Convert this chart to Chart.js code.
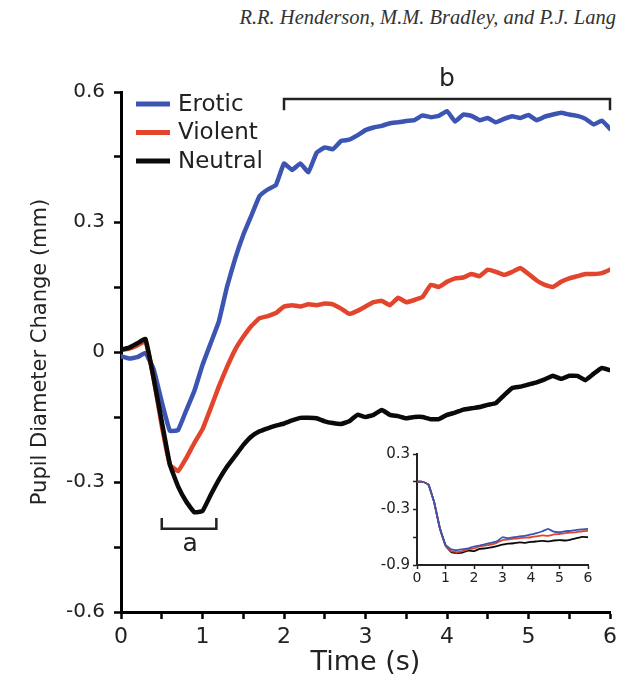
<!DOCTYPE html>
<html>
<head>
<meta charset="utf-8">
<script src="https://cdn.jsdelivr.net/npm/chart.js@4.4.1/dist/chart.umd.min.js"></script>
<style>
  html, body { margin: 0; padding: 0; background: #fff; }
  #wrap { position: relative; width: 632px; height: 679px; overflow: hidden; }
  #header { position: absolute; right: 16px; top: 6px; font: italic 20.5px "Liberation Serif", serif; color: #333; white-space: nowrap; }
  #main { position: absolute; left: 0; top: 0; }
  #inset { position: absolute; left: 360px; top: 430px; }
</style>
</head>
<body>
<div id="wrap">
  <div id="header">R.R. Henderson, M.M. Bradley, and P.J. Lang</div>
  <canvas id="main" width="632" height="679"></canvas>
  <canvas id="inset" width="250" height="160"></canvas>
</div>
<script>
// main panel: pupil change by picture content
const time = [0, 0.1, 0.2, 0.3, 0.4, 0.5, 0.6, 0.7, 0.8, 0.9,
  1.0, 1.1, 1.2, 1.3, 1.4, 1.5, 1.6, 1.7, 1.8, 1.9,
  2.0, 2.1, 2.2, 2.3, 2.4, 2.5, 2.6, 2.7, 2.8, 2.9,
  3.0, 3.1, 3.2, 3.3, 3.4, 3.5, 3.6, 3.7, 3.8, 3.9,
  4.0, 4.1, 4.2, 4.3, 4.4, 4.5, 4.6, 4.7, 4.8, 4.9,
  5.0, 5.1, 5.2, 5.3, 5.4, 5.5, 5.6, 5.7, 5.8, 5.9, 6.0];

const erotic = [-0.01, -0.015, -0.012, -0.002, -0.04, -0.115, -0.182, -0.18, -0.135, -0.09,
  -0.03, 0.02, 0.07, 0.15, 0.215, 0.27, 0.315, 0.36, 0.375, 0.385,
  0.435, 0.42, 0.435, 0.415, 0.46, 0.472, 0.468, 0.487, 0.49, 0.5,
  0.512, 0.518, 0.522, 0.528, 0.53, 0.533, 0.535, 0.546, 0.542, 0.545,
  0.556, 0.532, 0.548, 0.545, 0.535, 0.54, 0.53, 0.538, 0.544, 0.54,
  0.547, 0.535, 0.543, 0.548, 0.552, 0.548, 0.545, 0.538, 0.525, 0.534, 0.515];

const violent = [0.005, 0.008, 0.015, 0.025, -0.06, -0.17, -0.26, -0.275, -0.245, -0.21,
  -0.178, -0.13, -0.08, -0.035, 0.005, 0.035, 0.06, 0.078, 0.083, 0.09,
  0.105, 0.108, 0.105, 0.11, 0.108, 0.112, 0.11, 0.1, 0.088, 0.095,
  0.105, 0.115, 0.118, 0.108, 0.125, 0.115, 0.12, 0.127, 0.155, 0.15,
  0.162, 0.17, 0.172, 0.18, 0.175, 0.19, 0.185, 0.178, 0.185, 0.194,
  0.18, 0.165, 0.155, 0.15, 0.162, 0.17, 0.175, 0.18, 0.18, 0.182, 0.19];

const neutral = [0.005, 0.01, 0.02, 0.03, -0.06, -0.16, -0.26, -0.31, -0.345, -0.37,
  -0.367, -0.33, -0.295, -0.265, -0.24, -0.215, -0.195, -0.183, -0.176, -0.17,
  -0.165, -0.158, -0.152, -0.152, -0.153, -0.16, -0.164, -0.166, -0.16, -0.145,
  -0.15, -0.145, -0.134, -0.145, -0.148, -0.153, -0.15, -0.15, -0.155, -0.155,
  -0.145, -0.14, -0.133, -0.13, -0.127, -0.122, -0.118, -0.1, -0.083, -0.08,
  -0.075, -0.07, -0.063, -0.055, -0.062, -0.055, -0.055, -0.065, -0.05, -0.037, -0.042];

const mainXTicks = [0, 1, 2, 3, 4, 5, 6];
const mainYTicks = [-0.6, -0.3, 0, 0.3, 0.6];

// brackets: [from, to, y of bar, y of tick ends, label, label x, label y]
const bracketA = [0.5, 1.17, -0.408, -0.383, 'a', 0.85, -0.445];
const bracketB = [2, 6, 0.584, 0.558, 'b', 4, 0.628];

// inset panel
const insetTime = [0, 0.2, 0.4, 0.6, 0.8, 1.0, 1.2, 1.4, 1.6, 1.8,
  2.0, 2.2, 2.4, 2.6, 2.8, 3.0, 3.2, 3.4, 3.6, 3.8,
  4.0, 4.2, 4.4, 4.6, 4.8, 5.0, 5.2, 5.4, 5.6, 5.8, 6.0];
const insetErotic = [0, 0, -0.03, -0.22, -0.5, -0.68, -0.73, -0.74, -0.73, -0.72,
  -0.7, -0.69, -0.675, -0.66, -0.645, -0.6, -0.61, -0.6, -0.59, -0.585,
  -0.57, -0.555, -0.535, -0.51, -0.54, -0.545, -0.535, -0.53, -0.52, -0.515, -0.51];
const insetViolent = [0, 0, -0.03, -0.22, -0.5, -0.69, -0.75, -0.76, -0.75, -0.73,
  -0.72, -0.7, -0.69, -0.68, -0.66, -0.63, -0.625, -0.615, -0.61, -0.605,
  -0.6, -0.59, -0.58, -0.585, -0.57, -0.565, -0.555, -0.55, -0.545, -0.535, -0.53];
const insetNeutral = [0, 0, -0.03, -0.22, -0.5, -0.69, -0.76, -0.77, -0.765, -0.745,
  -0.75, -0.725, -0.72, -0.71, -0.695, -0.68, -0.67, -0.665, -0.655, -0.66,
  -0.65, -0.645, -0.64, -0.645, -0.635, -0.63, -0.635, -0.625, -0.61, -0.595, -0.6];
const insetXTicks = [0, 1, 2, 3, 4, 5, 6];
const insetYTicks = [-0.9, -0.3, 0.3];

const BLUE = '#3c54b2';
const RED = '#e2452c';
const BLACK = '#0a0a0a';

Chart.defaults.font.family = '"DejaVu Sans", sans-serif';
Chart.defaults.color = '#222';

function pts(xs, ys) {
  return xs.map((t, i) => ({ x: t, y: ys[i] }));
}

function labelIf(list) {
  return v => {
    const hit = list.find(t => Math.abs(t - v) < 1e-6);
    return hit === undefined ? '' : String(hit);
  };
}

function line(label, xs, ys, color, width, order) {
  return {
    label, data: pts(xs, ys), borderColor: color, backgroundColor: color,
    borderWidth: width, pointRadius: 0, tension: 0.1, order,
    borderJoinStyle: 'round', borderCapStyle: 'round'
  };
}

// legend + bracket annotations
const overlay = {
  id: 'overlay',
  afterDraw(chart) {
    const { ctx, chartArea, scales: { x, y } } = chart;
    ctx.save();
    ctx.font = '23px "DejaVu Sans", sans-serif';
    ctx.textBaseline = 'middle';
    ctx.textAlign = 'left';
    chart.data.datasets.forEach((ds, i) => {
      const ly = chartArea.top + 12 + i * 28.5;
      ctx.strokeStyle = ds.borderColor;
      ctx.lineWidth = 5;
      ctx.beginPath();
      ctx.moveTo(chartArea.left + 15, ly);
      ctx.lineTo(chartArea.left + 49, ly);
      ctx.stroke();
      ctx.fillStyle = '#222';
      ctx.fillText(ds.label, chartArea.left + 57, ly + 1);
    });

    [bracketA, bracketB].forEach(([from, to, yb, yt, txt, lx, lyv]) => {
      const x0 = x.getPixelForValue(from), x1 = x.getPixelForValue(to);
      const yy = y.getPixelForValue(yb), ye = y.getPixelForValue(yt);
      ctx.strokeStyle = '#222';
      ctx.lineWidth = 2.5;
      ctx.beginPath();
      ctx.moveTo(x0, ye);
      ctx.lineTo(x0, yy);
      ctx.lineTo(x1, yy);
      ctx.lineTo(x1, ye);
      ctx.stroke();
      ctx.fillStyle = '#222';
      ctx.textAlign = 'center';
      ctx.font = '25px "DejaVu Sans", sans-serif';
      ctx.fillText(txt, x.getPixelForValue(lx), y.getPixelForValue(lyv));
    });
    ctx.restore();
  }
};

new Chart(document.getElementById('main'), {
  type: 'line',
  data: {
    datasets: [
      line('Erotic', time, erotic, BLUE, 4.5, 2),
      line('Violent', time, violent, RED, 4.5, 1),
      line('Neutral', time, neutral, BLACK, 4.5, 0)
    ]
  },
  options: {
    responsive: false,
    animation: false,
    layout: { padding: { top: 92, right: 22, left: 0, bottom: 0 } },
    plugins: { legend: { display: false }, tooltip: { enabled: false } },
    scales: {
      x: {
        type: 'linear', min: 0, max: 6,
        afterFit: s => { s.height = 67; },
        border: { display: true, color: '#000', width: 3 },
        grid: { drawOnChartArea: false, color: '#000', tickLength: 7, tickWidth: 2.5 },
        ticks: { stepSize: 0.5, autoSkip: false, maxRotation: 0, padding: 5,
          font: { size: 22 }, color: '#222', callback: labelIf(mainXTicks) },
        title: { display: true, text: 'Time (s)', color: '#222',
          font: { size: 27, lineHeight: 1.2 }, padding: { top: 0, bottom: 0 } }
      },
      y: {
        type: 'linear', min: -0.6, max: 0.6,
        afterFit: s => { s.width = 121; },
        border: { display: true, color: '#000', width: 3 },
        grid: { drawOnChartArea: false, color: '#000', tickLength: 7, tickWidth: 2.5 },
        ticks: { stepSize: 0.15, autoSkip: false, padding: 9,
          font: { size: 20 }, color: '#222', callback: labelIf(mainYTicks) },
        title: { display: true, text: 'Pupil Diameter Change (mm)', color: '#222',
          font: { size: 21, lineHeight: 1.2 }, padding: { top: 28, bottom: 0 } }
      }
    }
  },
  plugins: [overlay]
});

new Chart(document.getElementById('inset'), {
  type: 'line',
  data: {
    datasets: [
      line('Erotic', insetTime, insetErotic, BLUE, 1.8, 0),
      line('Violent', insetTime, insetViolent, RED, 1.8, 1),
      line('Neutral', insetTime, insetNeutral, BLACK, 1.8, 2)
    ]
  },
  options: {
    responsive: false,
    animation: false,
    layout: { padding: { top: 24, right: 22, left: 0, bottom: 0 } },
    plugins: { legend: { display: false }, tooltip: { enabled: false } },
    scales: {
      x: {
        type: 'linear', min: 0, max: 6,
        afterFit: s => { s.height = 25; },
        border: { display: true, color: '#222', width: 2 },
        grid: { drawOnChartArea: false, color: '#222', tickLength: 4, tickWidth: 1.5 },
        ticks: { stepSize: 1, autoSkip: false, maxRotation: 0, padding: 1,
          font: { size: 14 }, color: '#222', callback: labelIf(insetXTicks) }
      },
      y: {
        type: 'linear', min: -0.9, max: 0.3,
        afterFit: s => { s.width = 57; },
        border: { display: true, color: '#222', width: 2 },
        grid: { drawOnChartArea: false, color: '#222', tickLength: 4, tickWidth: 1.5 },
        ticks: { stepSize: 0.3, autoSkip: false, padding: 3,
          font: { size: 15 }, color: '#222', callback: labelIf(insetYTicks) }
      }
    }
  }
});
</script>
</body>
</html>
